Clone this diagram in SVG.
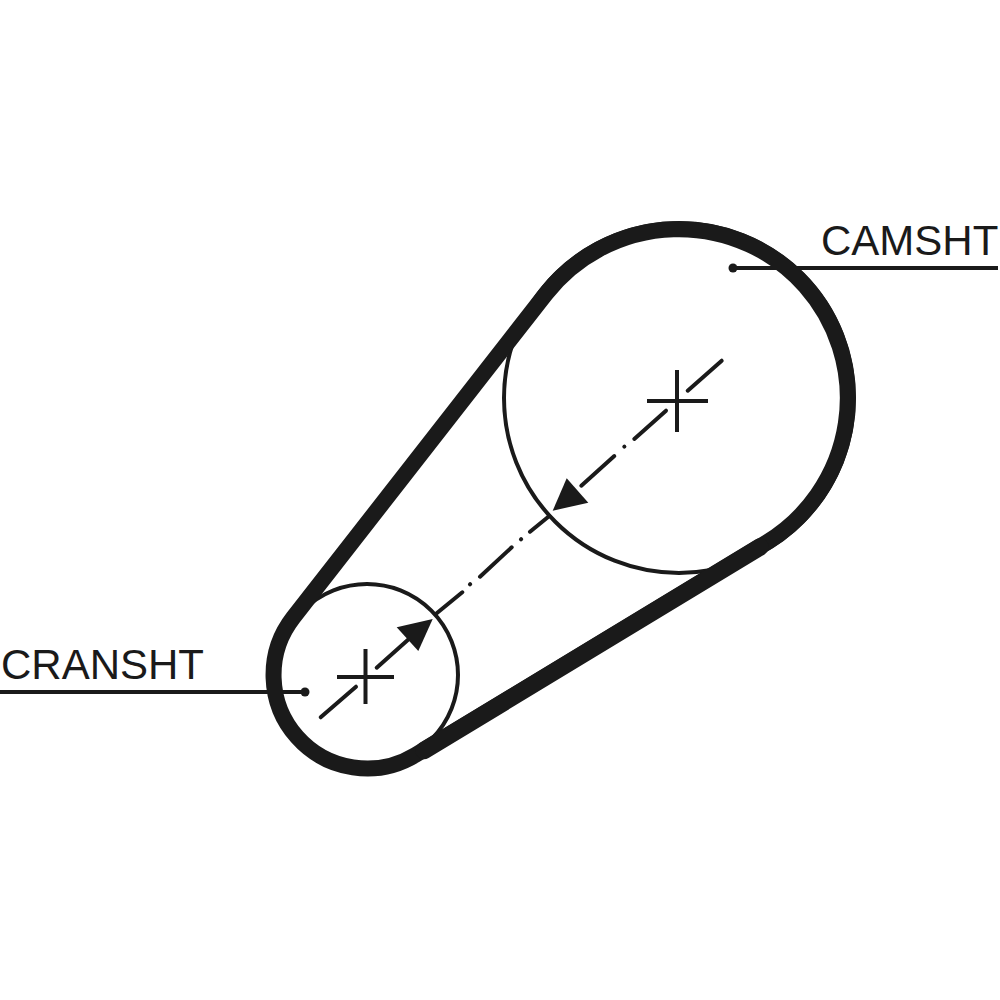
<svg xmlns="http://www.w3.org/2000/svg" width="1000" height="1000" viewBox="0 0 1000 1000">
<style>
.thin{fill:none;stroke:#1a1a1a;stroke-width:4}
.cl{fill:none;stroke:#1a1a1a;stroke-width:4;stroke-linecap:round}
.head{fill:#1a1a1a}
.lbl{font-family:"Liberation Sans",Arial,sans-serif;font-size:42px;fill:#1a1a1a}
.lead{fill:none;stroke:#1a1a1a;stroke-width:4}
.beltline{fill:none;stroke:#1a1a1a;stroke-linejoin:round;stroke-linecap:round}
</style>
<rect width="1000" height="1000" fill="#fff"/>
<g id="camshaft-pulley"><circle class="thin" cx="679" cy="398" r="175"/>
<path class="thin" d="M647 401H708M677 370V432"/></g>
<g id="crankshaft-pulley"><circle class="thin" cx="367" cy="675" r="91"/>
<path class="thin" d="M337 677H394M365.500 649V704"/></g>
<g id="belt"><path class="beltline" stroke-width="16" d="M293.300 617.500 L545.700 294 A169 169 0 1 1 766.500 542.600 L415.400 755 A93.500 93.500 0 0 1 293.300 617.500 Z"/>
<path class="beltline" stroke-width="17.500" d="M760 547L424 750.500"/></g>
<g id="connectors">
<path class="cl" d="M721.700 360.700L687.700 390.700M666 410.700L634.300 439M624.300 446.700L624.400 446.600M614.300 456L581.300 485.700"/>
<path class="cl" d="M549.300 516L530 531.700M521 539.300L521.100 539.200M511.700 547.300L480 576.700M470 584.300L470.100 584.200M462.300 592.300L436.700 613.300"/>
<path class="cl" d="M356 686.700L320.700 717.300M376.700 667.700L410 638"/>
<path class="head" d="M432.700 619L396.700 627.300L418.300 651Z"/>
<path class="head" d="M552.700 510.700L566.700 478.300L588.300 502.700Z"/>
</g>
<g id="camshaft-label"><text class="lbl" x="821" y="255">CAMSHT</text>
<path class="lead" d="M733 268H998"/><circle cx="733" cy="268" r="4.500" fill="#1a1a1a"/></g>
<g id="crankshaft-label"><text class="lbl" x="1" y="679">CRANSHT</text>
<path class="lead" d="M0 692H306"/><circle cx="305" cy="692" r="4.500" fill="#1a1a1a"/></g>
</svg>
